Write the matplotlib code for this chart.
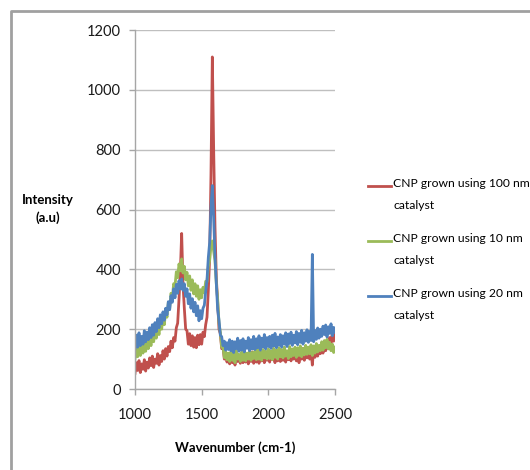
import matplotlib
matplotlib.use("Agg")
import matplotlib.pyplot as plt
from matplotlib.lines import Line2D
import numpy as np

# wavenumber grid, 10 cm-1 apart
wavenumber = np.arange(1000, 2501, 10)

series_names = [
    "CNP grown using 100 nm\ncatalyst",
    "CNP grown using 10 nm\ncatalyst",
    "CNP grown using 20 nm\ncatalyst",
]
series_colors = ["#C0504D", "#9BBB59", "#4F81BD"]

# intensities (a.u), noise included by eye
cnp_100nm = [
    52, 88, 62, 95, 55, 84, 66, 98, 60, 90,
    70, 104, 78, 110, 72, 100, 86, 118, 80, 112,
    92, 128, 100, 135, 110, 142, 125, 160, 138, 172,
    160, 205, 220, 300, 390, 520, 350, 270, 200, 195,
    150, 185, 145, 178, 140, 172, 138, 180, 148, 182,
    150, 190, 175, 215, 240, 330, 440, 720, 1110, 800,
    540, 370, 290, 200, 185, 135, 140, 100, 118, 90,
    112, 84, 118, 88, 110, 80, 120, 92, 105, 86,
    115, 88, 120, 90, 110, 84, 118, 92, 124, 86,
    112, 90, 122, 86, 116, 94, 125, 88, 110, 96,
    120, 90, 126, 98, 112, 88, 124, 94, 128, 92,
    118, 96, 130, 90, 120, 98, 128, 94, 132, 100,
    124, 94, 134, 88, 126, 100, 136, 96, 128, 104,
    138, 100, 132, 80, 135, 106, 142, 110, 138, 118,
    150, 120, 158, 128, 160, 135, 172, 145, 190, 160,
    185,
]

cnp_10nm = [
    100, 138, 108, 145, 112, 150, 120, 158, 126, 162,
    135, 172, 145, 185, 158, 195, 170, 210, 182, 222,
    200, 240, 215, 262, 240, 290, 268, 320, 305, 352,
    345, 392, 372, 418, 395, 435, 388, 410, 365, 390,
    345, 378, 330, 365, 318, 352, 310, 345, 300, 332,
    305, 340, 322, 360, 358, 410, 430, 480, 495, 460,
    430, 350, 300, 220, 190, 140, 140, 105, 125, 98,
    120, 92, 126, 96, 118, 88, 128, 100, 116, 92,
    124, 96, 130, 94, 120, 100, 132, 96, 122, 102,
    128, 98, 134, 100, 124, 96, 132, 104, 126, 100,
    134, 102, 128, 98, 136, 106, 130, 100, 138, 108,
    132, 104, 140, 110, 128, 102, 142, 108, 134, 112,
    140, 106, 138, 112, 144, 108, 136, 114, 146, 116,
    140, 118, 148, 112, 144, 120, 152, 124, 146, 128,
    158, 130, 162, 138, 166, 134, 156, 128, 150, 122,
    140,
]

cnp_20nm = [
    135, 180, 140, 188, 145, 176, 150, 195, 158, 190,
    165, 205, 172, 215, 180, 222, 192, 235, 205, 248,
    218, 258, 230, 270, 248, 292, 265, 312, 290, 335,
    305, 350, 320, 362, 335, 368, 330, 352, 310, 335,
    285, 318, 270, 302, 258, 290, 245, 278, 228, 262,
    235, 270, 280, 325, 365, 440, 490, 610, 680, 570,
    440, 350, 265, 230, 180, 175, 145, 160, 130, 155,
    132, 165, 128, 160, 122, 158, 135, 170, 126, 162,
    130, 168, 124, 160, 136, 172, 128, 165, 134, 176,
    132, 168, 138, 178, 130, 170, 140, 182, 134, 172,
    142, 176, 136, 180, 144, 186, 138, 174, 146, 182,
    140, 178, 150, 188, 142, 184, 152, 190, 146, 180,
    154, 192, 148, 186, 156, 196, 150, 188, 160, 198,
    156, 192, 162, 450, 158, 196, 166, 204, 170, 200,
    176, 210, 182, 214, 174, 208, 186, 218, 178, 206,
    190,
]

y_ticks = [0, 200, 400, 600, 800, 1000, 1200]
x_ticks = [1000, 1500, 2000, 2500]

plt.rcParams['font.family'] = ['Lato', 'DejaVu Sans']

fig = plt.figure(figsize=(5.3, 4.7), dpi=100)
ax = fig.add_axes([0.2547, 0.1723, 0.3774, 0.7638])

for values, color, name in zip([cnp_100nm, cnp_10nm, cnp_20nm], series_colors, series_names):
    ax.plot(wavenumber, values, color=color, lw=2.0, label=name)

ax.set_xlim(1000, 2500)
ax.set_ylim(0, 1200)
ax.set_xticks(x_ticks)
ax.set_yticks(y_ticks)
ax.yaxis.grid(True, color="#BFBFBF", lw=1.0)
ax.set_axisbelow(True)

for side in ["top", "right"]:
    ax.spines[side].set_visible(False)
for side in ["left", "bottom"]:
    ax.spines[side].set_color("#A6A6A6")
    ax.spines[side].set_linewidth(1.0)
ax.tick_params(axis="both", colors="#A6A6A6", length=4, width=1.0, labelsize=10.5, labelcolor="#1a1a1a")
ax.tick_params(axis="y", pad=6)
ax.tick_params(axis="x", pad=10)

# axis titles, Excel style
fig.text(48 / 530, 1 - 209 / 470, "Intensity\n(a.u)", ha="center", va="center",
         fontsize=9.5, fontweight="bold", linespacing=1.5)
fig.text(235 / 530, 1 - 448 / 470, "Wavenumber (cm-1)", ha="center", va="center",
         fontsize=9.5, fontweight="bold")

# legend drawn by hand so the swatch sits on the first text line
legend_top = [186, 241, 296]
for top, color, name in zip(legend_top, series_colors, series_names):
    y = 1 - top / 470
    fig.add_artist(Line2D([368 / 530, 391 / 530], [y, y], color=color, lw=2.0,
                          transform=fig.transFigure))
    fig.text(393 / 530, y + 8 / 470, name, ha="left", va="top", fontsize=8.7,
             linespacing=2.25, transform=fig.transFigure)

# outer chart border, only top and left show
fig.add_artist(Line2D([11 / 530, 11 / 530, 1], [0, 1 - 11 / 470, 1 - 11 / 470],
                      color="#A0A0A0", lw=2.0, transform=fig.transFigure))

fig.savefig("out.png", dpi=100)
